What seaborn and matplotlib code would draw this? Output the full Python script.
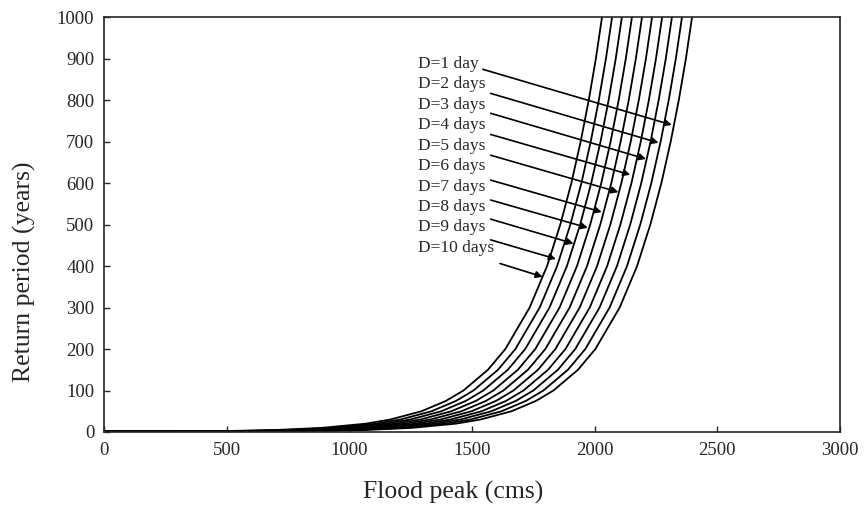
import pandas as pd
import seaborn as sns
import matplotlib.pyplot as plt

# return period (years) shared by all curves
return_period = [1, 1.1, 1.5, 2, 3, 5, 10, 20, 30, 50, 75, 100, 150, 200,
                 300, 400, 500, 600, 700, 800, 900, 1000, 1100]

# flood peak (cms) for each duration
peak_d1 = [0, 491, 682, 795, 926, 1073, 1256, 1433, 1534, 1661, 1761, 1832, 1932, 2003,
           2102, 2173, 2227, 2272, 2310, 2343, 2372, 2397, 2421]
peak_d2 = [0, 450, 641, 754, 885, 1032, 1215, 1392, 1493, 1620, 1720, 1791, 1891, 1962,
           2061, 2132, 2186, 2231, 2269, 2302, 2331, 2356, 2380]
peak_d3 = [0, 409, 600, 713, 844, 991, 1174, 1351, 1452, 1579, 1679, 1750, 1850, 1921,
           2020, 2091, 2145, 2190, 2228, 2261, 2290, 2315, 2339]
peak_d4 = [0, 369, 560, 673, 804, 951, 1134, 1311, 1412, 1539, 1639, 1710, 1810, 1881,
           1980, 2051, 2105, 2150, 2188, 2221, 2250, 2275, 2299]
peak_d5 = [0, 328, 519, 632, 763, 910, 1093, 1270, 1371, 1498, 1598, 1669, 1769, 1840,
           1939, 2010, 2064, 2109, 2147, 2180, 2209, 2234, 2258]
peak_d6 = [0, 287, 478, 591, 722, 869, 1052, 1229, 1330, 1457, 1557, 1628, 1728, 1799,
           1898, 1969, 2023, 2068, 2106, 2139, 2168, 2193, 2217]
peak_d7 = [0, 246, 437, 550, 681, 828, 1011, 1188, 1289, 1416, 1516, 1587, 1687, 1758,
           1857, 1928, 1982, 2027, 2065, 2098, 2127, 2152, 2176]
peak_d8 = [0, 205, 396, 509, 640, 787, 970, 1147, 1248, 1375, 1475, 1546, 1646, 1717,
           1816, 1887, 1941, 1986, 2024, 2057, 2086, 2111, 2135]
peak_d9 = [0, 165, 356, 469, 600, 747, 930, 1107, 1208, 1335, 1435, 1506, 1606, 1677,
           1776, 1847, 1901, 1946, 1984, 2017, 2046, 2071, 2095]
peak_d10 = [0, 124, 315, 428, 559, 706, 889, 1066, 1167, 1294, 1394, 1465, 1565, 1636,
            1735, 1806, 1860, 1905, 1943, 1976, 2005, 2030, 2054]

labels = ['D=1 day', 'D=2 days', 'D=3 days', 'D=4 days', 'D=5 days',
          'D=6 days', 'D=7 days', 'D=8 days', 'D=9 days', 'D=10 days']

# arrow heads (on curve) and tails (near label)
tip_x = [2314, 2260, 2209, 2145, 2097, 2029, 1972, 1914, 1842, 1788]
tip_y = [740, 697, 658, 620, 578, 530, 492, 454, 417, 374]
tail_x = [1544, 1576, 1576, 1576, 1576, 1576, 1576, 1576, 1576, 1614]
tail_y = [874, 816, 768, 717, 667, 607, 559, 513, 463, 406]
label_y = [887, 838, 789, 739, 690, 641, 591, 542, 493, 443]

peaks = [peak_d1, peak_d2, peak_d3, peak_d4, peak_d5,
         peak_d6, peak_d7, peak_d8, peak_d9, peak_d10]
frames = []
for lab, pk in zip(labels, peaks):
    frames.append(pd.DataFrame({'Flood peak': pk, 'Return period': return_period, 'Duration': lab}))
df = pd.concat(frames, ignore_index=True)

sns.set_style("ticks")
plt.rcParams['font.family'] = ['Liberation Serif', 'DejaVu Serif']

fig, ax = plt.subplots(figsize=(8.64, 5.11), dpi=100)
fig.subplots_adjust(left=0.1204, right=0.9722, top=0.9667, bottom=0.1546)

sns.lineplot(data=df, x='Flood peak', y='Return period', hue='Duration',
             palette=['black'] * 10, estimator=None, sort=False, legend=False,
             linewidth=1.3, ax=ax)

for i, lab in enumerate(labels):
    ax.text(1280, label_y[i], lab, fontsize=12.5, ha='left', va='center')
    ax.annotate('', xy=(tip_x[i], tip_y[i]), xytext=(tail_x[i], tail_y[i]),
                arrowprops=dict(arrowstyle='-|>', color='black', lw=1.2,
                                shrinkA=0, shrinkB=0, mutation_scale=10))

ax.set_xlim(0, 3000)
ax.set_ylim(0, 1000)
ax.set_xticks(range(0, 3001, 500))
ax.set_yticks(range(0, 1001, 100))
ax.tick_params(direction='in', length=4, width=1, labelsize=13.5, pad=7)
for s in ax.spines.values():
    s.set_linewidth(1.2)
ax.set_xlabel('Flood peak (cms)', fontsize=18.5)
ax.set_ylabel('Return period (years)', fontsize=18.5)
ax.xaxis.set_label_coords(0.474, -0.118)
ax.yaxis.set_label_coords(-0.093, 0.386)

fig.savefig('out.png', dpi=100)
plt.close()
